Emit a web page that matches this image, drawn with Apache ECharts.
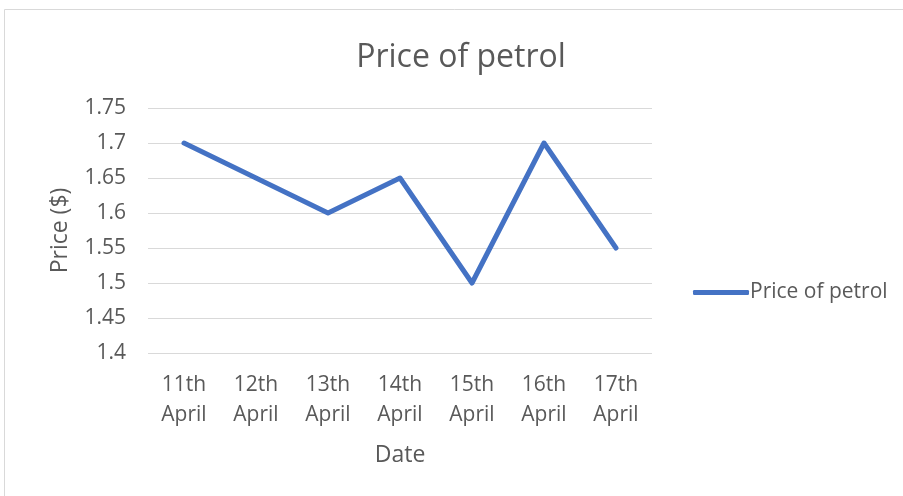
<!DOCTYPE html>
<html>
<head>
<meta charset="utf-8">
<script src="https://cdn.jsdelivr.net/npm/echarts@6/dist/echarts.min.js"></script>
<style>
html,body{margin:0;padding:0;background:#fff;}
#c{width:903px;height:496px;}
</style>
</head>
<body>
<div id="c"></div>
<script>
const categories = ['11th\nApril','12th\nApril','13th\nApril','14th\nApril','15th\nApril','16th\nApril','17th\nApril'];
const prices = [1.7, 1.65, 1.6, 1.65, 1.5, 1.7, 1.55];
const seriesName = 'Price of petrol';
const titleText = 'Price of petrol';
const xName = 'Date';
const yName = 'Price ($)';

const font = '"Open Sans", Lato, sans-serif';
const chart = echarts.init(document.getElementById('c'));
chart.setOption({
  animation: false,
  textStyle: {fontFamily: font},
  graphic: [{
    type: 'rect', shape: {x: 4.5, y: 9.5, width: 1000, height: 1000},
    style: {fill: 'none', stroke: '#d9d9d9', lineWidth: 1}, silent: true
  }],
  title: {
    text: titleText, left: 456, top: 37, textAlign: 'center',
    textStyle: {fontFamily: font, fontSize: 32, fontWeight: 'normal', color: '#595959'}
  },
  legend: {
    data: [seriesName], left: 688, top: 277, itemWidth: 56, itemHeight: 5,
    itemGap: 0, icon: 'roundRect',
    textStyle: {fontFamily: font, fontSize: 21, color: '#595959', padding: [0,0,0,-4]}
  },
  grid: {left: 148, right: 251, top: 108, bottom: 143},
  xAxis: {
    type: 'category', data: categories, boundaryGap: true,
    name: xName, nameLocation: 'middle', nameGap: 91,
    nameTextStyle: {fontFamily: font, fontSize: 23, color: '#595959'},
    axisLine: {show: false}, axisTick: {show: false},
    axisLabel: {fontFamily: font, fontSize: 21, color: '#595959', lineHeight: 30, margin: 17, interval: 0}
  },
  yAxis: {
    type: 'value', min: 1.4, max: 1.75, interval: 0.05,
    name: yName, nameLocation: 'middle', nameGap: 76,
    nameTextStyle: {fontFamily: font, fontSize: 23, color: '#595959'},
    axisLine: {show: false}, axisTick: {show: false},
    axisLabel: {fontFamily: font, fontSize: 21, color: '#595959', margin: 22,
      formatter: v => String(parseFloat(v.toFixed(2)))},
    splitLine: {lineStyle: {color: '#d9d9d9', width: 1}}
  },
  series: [{
    name: seriesName, type: 'line', data: prices,
    showSymbol: false, symbol: 'none',
    lineStyle: {color: '#4472c4', width: 5, cap: 'round', join: 'round'},
    itemStyle: {color: '#4472c4'}
  }]
});
</script>
</body>
</html>
